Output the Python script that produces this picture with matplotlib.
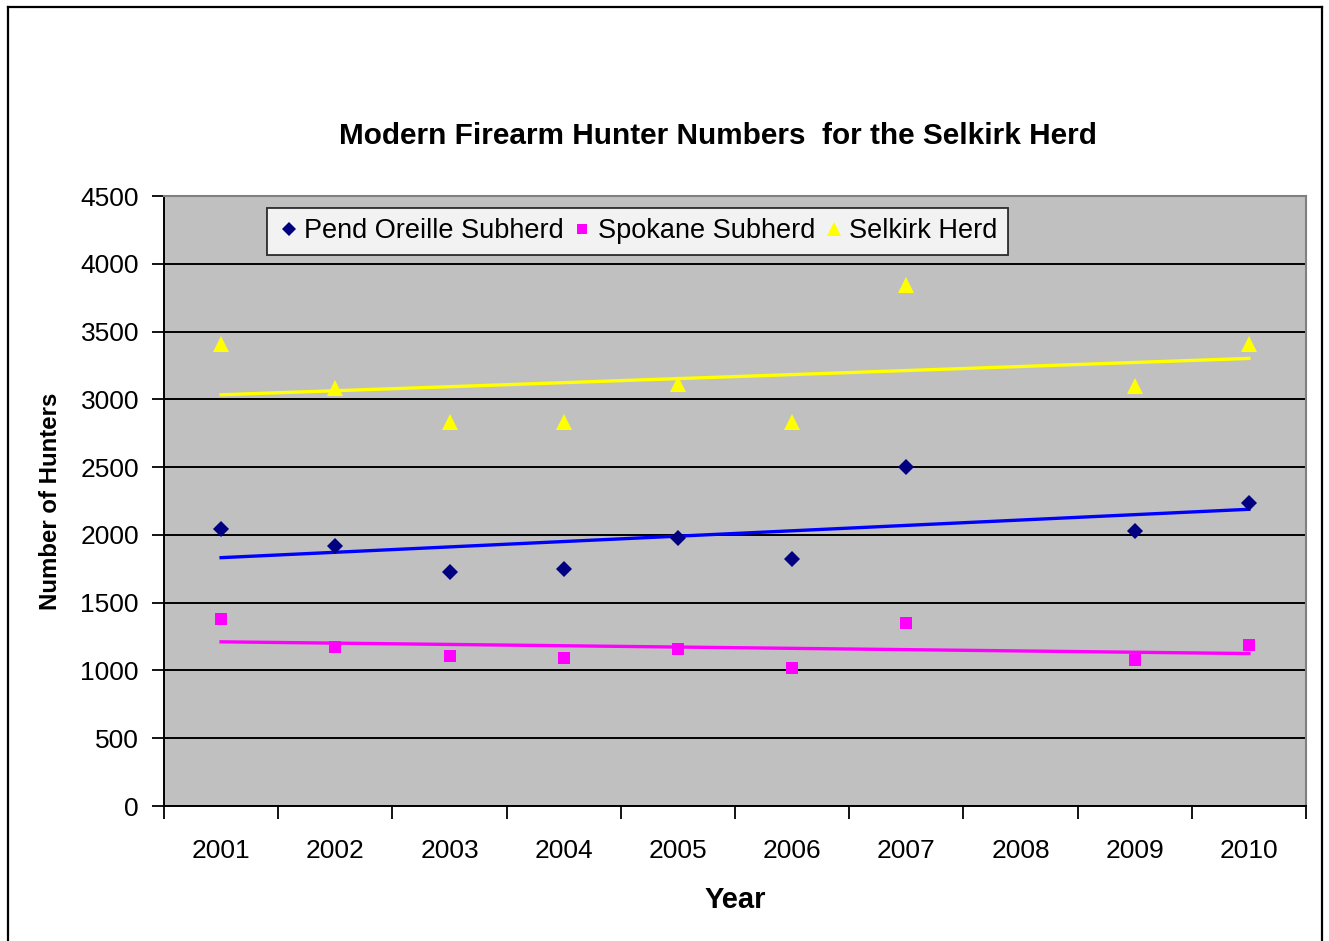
import numpy as np
import matplotlib
matplotlib.use("Agg")
import matplotlib.pyplot as plt
from matplotlib.lines import Line2D

plt.rcParams['font.family'] = ['Liberation Sans', 'DejaVu Sans']

# Hunting seasons (2008 has no survey data)
years = ['2001', '2002', '2003', '2004', '2005', '2006', '2007', '2008', '2009', '2010']
pend_oreille = [2040, 1920, 1725, 1750, 1975, 1820, 2500, np.nan, 2030, 2235]
spokane = [1380, 1170, 1105, 1090, 1160, 1020, 1350, np.nan, 1075, 1185]
selkirk = [3410, 3080, 2830, 2830, 3110, 2830, 3840, np.nan, 3095, 3410]

series = [
    ("Pend Oreille Subherd", pend_oreille, 'D', '#000080', 8, '#0000FF'),
    ("Spokane Subherd", spokane, 's', '#FF00FF', 8, '#FF00FF'),
    ("Selkirk Herd", selkirk, '^', '#FFFF00', 11, '#FFFF00'),
]

fig = plt.figure(figsize=(13.29, 9.41), dpi=100)
ax = fig.add_axes([164 / 1329, 1 - 806 / 941, 1142 / 1329, 610 / 941])
ax.set_facecolor('#C0C0C0')

x = np.arange(len(years))

for label, vals, mk, col, ms, tcol in series:
    y = np.array(vals, dtype=float)
    ok = ~np.isnan(y)
    # linear trend over the category positions
    slope, icpt = np.polyfit(x[ok] + 1, y[ok], 1)
    xt = np.array([x[0], x[-1]])
    ax.plot(xt, slope * (xt + 1) + icpt, color=tcol, lw=2.4, zorder=3)
    ax.plot(x[ok], y[ok], linestyle='none', marker=mk, color=col,
            markersize=ms, markeredgewidth=0, label=label, zorder=4)

ax.set_xlim(-0.5, len(years) - 0.5)
ax.set_ylim(0, 4500)
ax.set_yticks(np.arange(0, 4501, 500))
ax.yaxis.grid(True, color='black', lw=1.4)
ax.set_axisbelow(True)

ax.set_xticks(x)
ax.set_xticklabels(years)
ax.set_xticks(np.arange(-0.5, len(years)), minor=True)
ax.tick_params(axis='x', which='major', length=0, pad=24, labelsize=19)
ax.tick_params(axis='x', which='minor', length=9, width=1.3, direction='out', color='black')
ax.tick_params(axis='y', which='major', length=9, width=1.3, direction='out', pad=9, labelsize=19)

for side in ('top', 'right'):
    ax.spines[side].set_color('#808080')
    ax.spines[side].set_linewidth(1.5)
for side in ('left', 'bottom'):
    ax.spines[side].set_color('black')
    ax.spines[side].set_linewidth(1.4)

ax.set_xlabel('Year', fontsize=21, fontweight='bold', labelpad=16)
ax.set_ylabel('Number of Hunters', fontsize=17.3, fontweight='bold', labelpad=13)

fig.text(718 / 1329, 1 - 136 / 941, 'Modern Firearm Hunter Numbers  for the Selkirk Herd',
         ha='center', va='center', fontsize=21.4, fontweight='bold')

leg = ax.legend(loc='upper left', bbox_to_anchor=(0.0902, 0.980), ncol=3,
                frameon=True, fancybox=False, shadow=False, borderaxespad=0,
                fontsize=19.5, handletextpad=0.15, columnspacing=0.25,
                handlelength=0.85, borderpad=0.38, markerscale=0.9)
leg.get_frame().set_edgecolor('black')
leg.get_frame().set_linewidth(1.3)
leg.get_frame().set_facecolor('white')

# chart frame (open at the bottom edge)
for xs, ys in [((7.5, 7.5), (941, 7)), ((7.5, 1322), (7, 7)), ((1322, 1322), (7, 941))]:
    fig.add_artist(Line2D([v / 1329 for v in xs], [1 - v / 941 for v in ys],
                          transform=fig.transFigure, color='black', lw=1.6))

fig.savefig('out.png', dpi=100)
